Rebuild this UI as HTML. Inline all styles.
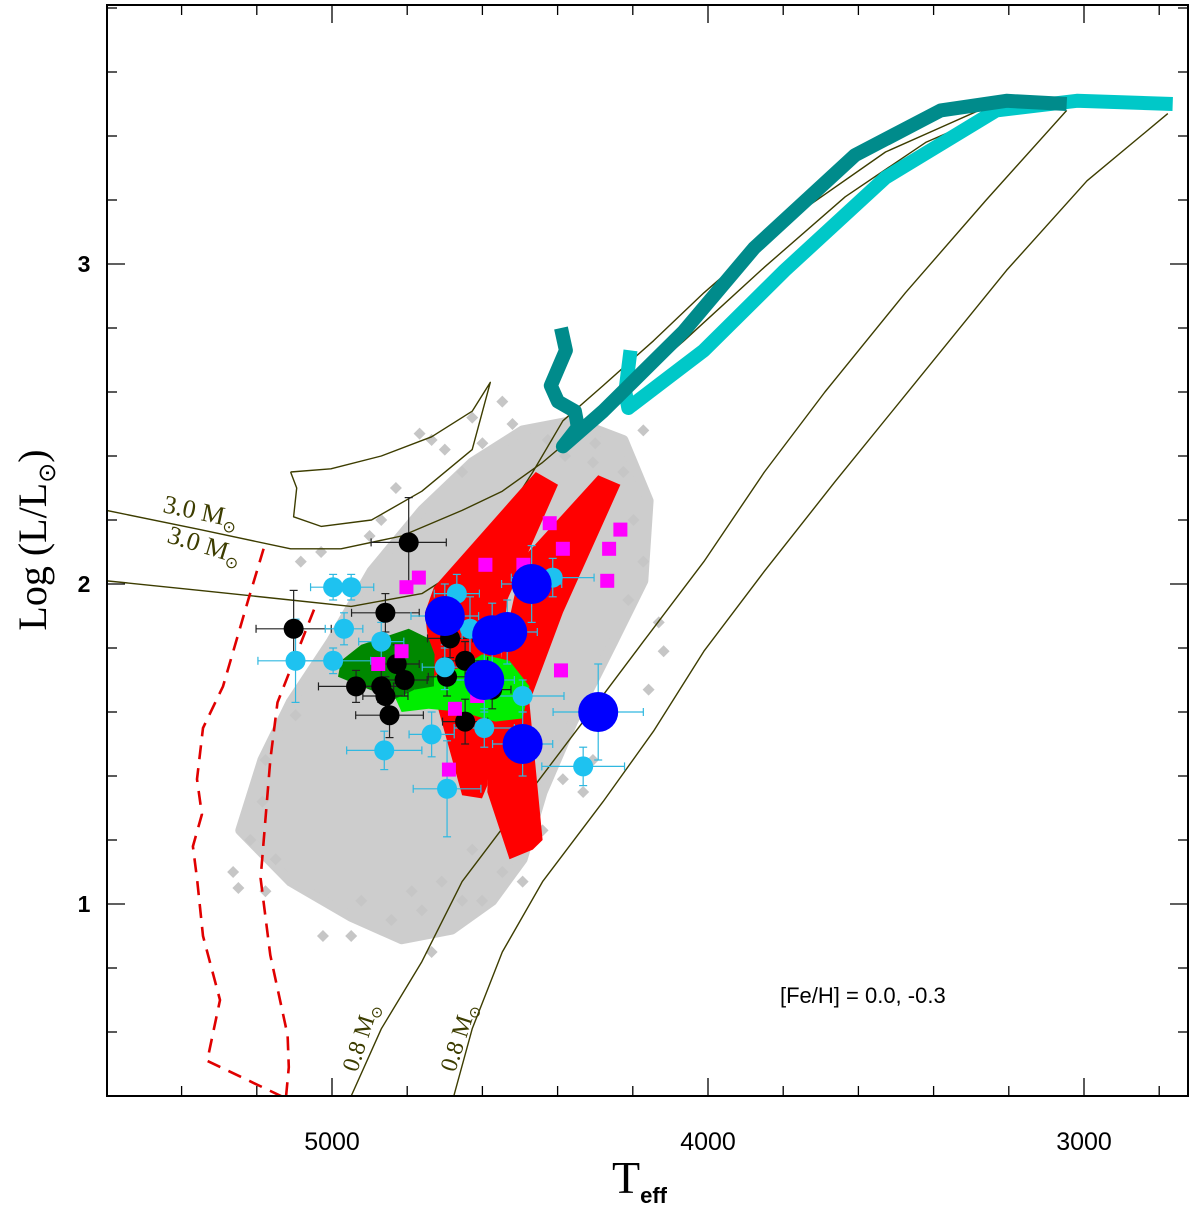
<!DOCTYPE html>
<html><head><meta charset="utf-8"><style>
html,body{margin:0;padding:0;background:#fff;}
svg{display:block;}
</style></head><body>
<svg id="chart" width="1200" height="1210" xmlns="http://www.w3.org/2000/svg"></svg>
<script>
// ---- data (Teff [K], log L/Lsun) ----
const xTicksMajor = [5000, 4000, 3000];
const xTickLabels = ["5000", "4000", "3000"];
const yTicksMajor = [1, 2, 3];
const yTickLabels = ["1", "2", "3"];

const trackUpperT = [5600,5351,5110,4976,4815,4654,4547,4440,4279,4064,3850,3635,3421,3206,3046];
const trackUpperL = [2.23,2.17,2.11,2.11,2.15,2.23,2.29,2.38,2.54,2.76,2.99,3.21,3.38,3.49,3.52];
const loopT = [5110,5003,4869,4735,4627,4579,4627,4761,4895,5029,5102,5094,5110];
const loopL = [2.35,2.36,2.40,2.46,2.54,2.63,2.42,2.29,2.20,2.18,2.21,2.30,2.35];
const trackLowerT = [5600,5351,5110,4949,4761,4627,4547,4466,4386,4279,4145,4011,3796,3528,3260,3046];
const trackLowerL = [2.01,1.98,1.95,1.93,1.97,2.07,2.20,2.35,2.51,2.62,2.76,2.91,3.13,3.35,3.49,3.52];
const track08aT = [4949,4869,4761,4654,4493,4332,4172,4011,3850,3689,3475,3260,3046];
const track08aL = [0.40,0.61,0.82,1.07,1.32,1.57,1.82,2.07,2.35,2.60,2.91,3.20,3.48];
const track08bT = [4676,4627,4547,4440,4279,4145,4011,3850,3662,3448,3206,2992,2777];
const track08bL = [0.40,0.61,0.85,1.07,1.32,1.54,1.79,2.04,2.32,2.63,2.98,3.26,3.47];

const tealT = [4391,4378,4418,4399,4354,4346,4386,4279,4064,3877,3609,3381,3206,3046];
const tealL = [2.80,2.73,2.62,2.57,2.54,2.49,2.43,2.54,2.79,3.05,3.34,3.48,3.51,3.50];
const cyanT = [4206,4220,4212,4011,3796,3528,3233,3019,2764];
const cyanL = [2.73,2.60,2.55,2.73,2.98,3.27,3.48,3.51,3.50];

const dashOuterT = [5182,5223,5290,5343,5359,5346,5370,5359,5343,5298,5332,5118];
const dashOuterL = [2.11,1.95,1.68,1.55,1.39,1.28,1.18,1.08,0.90,0.70,0.51,0.39];
const dashInnerT = [5048,5145,5164,5190,5164,5118,5115,5123];
const dashInnerL = [1.92,1.63,1.45,1.08,0.84,0.59,0.49,0.39];

const band1T = [4729,4458,4399,4534,4587,4601,4654,4727,4753];
const band1L = [1.99,2.35,2.31,1.95,1.37,1.33,1.34,1.65,1.91];
const band2T = [4493,4292,4233,4386,4475,4440,4466,4528,4587,4579,4547];
const band2L = [2.08,2.34,2.31,1.91,1.63,1.20,1.17,1.14,1.35,1.60,1.79];

const darkGreenT = [4976,4922,4796,4743,4727,4729,4780,4834,4922,4984];
const darkGreenL = [1.76,1.81,1.86,1.83,1.78,1.68,1.67,1.64,1.68,1.71];
const lightGreenT = [4834,4780,4716,4654,4601,4528,4475,4493,4566,4654,4743,4815];
const lightGreenL = [1.65,1.67,1.72,1.74,1.78,1.76,1.68,1.58,1.57,1.60,1.61,1.60];

const cloudT = [5244,5185,5110,5003,4895,4761,4627,4493,4359,4225,4158,4172,4252,4359,4440,4493,4574,4681,4815,4949,5110];
const cloudL = [1.23,1.45,1.63,1.82,2.04,2.23,2.38,2.48,2.51,2.45,2.26,2.01,1.82,1.57,1.35,1.14,1.01,0.92,0.89,0.96,1.07];
const fieldT = [4767,4735,4627,4547,4279,4172,4225,4118,4131,4198,4279,4386,4440,4493,4547,4654,4735,4761,5024,5177,5249,5263,5185,5177,5097,4601,4788,4949,4842,4306,4332,4158,4306,4426,4654,4869,5029,5083,5217,5150,4922,4708,4627,4172,4212,4700,4600,4520,4380,4300,4830,4900];
const fieldL = [2.47,2.45,2.52,2.57,2.54,2.48,2.35,1.79,1.88,2.20,1.63,1.39,1.23,1.07,1.10,1.01,0.85,0.98,0.90,1.04,1.05,1.10,1.32,1.45,1.59,1.01,1.04,0.90,0.95,1.45,1.35,1.67,2.38,2.45,2.35,2.20,2.10,2.07,1.20,1.14,1.01,1.07,1.17,2.07,1.95,2.42,2.44,2.50,2.40,2.44,2.30,2.15];

const blackT = [4796,5102,4858,4828,4807,4936,4869,4858,4847,4686,4646,4694,4646,4574];
const blackL = [2.13,1.86,1.91,1.75,1.70,1.68,1.68,1.65,1.59,1.83,1.76,1.71,1.57,1.67];
const blackErrT = [100,100,90,60,60,100,70,60,90,60,60,50,60,50];
const blackErrL = [0.14,0.12,0.06,0.06,0.05,0.05,0.05,0.06,0.07,0.06,0.06,0.06,0.07,0.06];

const skyT = [4997,4949,4968,5097,4997,4869,4668,4633,4700,4735,4861,4694,4595,4493,4413,4332];
const skyL = [1.99,1.99,1.86,1.76,1.76,1.82,1.97,1.86,1.74,1.53,1.48,1.36,1.55,1.65,2.02,1.43];
const skyErrT = [60,60,50,100,100,60,60,80,60,60,100,90,80,110,110,110];
const skyErrL = [0.04,0.04,0.05,0.13,0.04,0.06,0.06,0.10,0.07,0.07,0.06,0.15,0.06,0.05,0.06,0.06];

const bigT = [4469,4700,4574,4534,4595,4493,4292];
const bigL = [2.00,1.90,1.84,1.85,1.70,1.50,1.60];
const bigErrT = [80,90,80,80,80,80,120];
const bigErrL = [0.12,0.10,0.10,0.10,0.10,0.10,0.15];

const magT = [4421,4233,4386,4263,4592,4491,4268,4769,4802,4815,4877,4391,4673,4614,4689];
const magL = [2.19,2.17,2.11,2.11,2.06,2.06,2.01,2.02,1.99,1.79,1.75,1.73,1.61,1.65,1.42];

// ---- axes ----
const X0 = 107, X1 = 1188, Y0 = 5, Y1 = 1096;
function sx(t){ return 332 + (5000 - t) / 1000 * 376; }
function sy(l){ return 584 - (l - 2) * 320; }

const NS = "http://www.w3.org/2000/svg";
const svg = document.getElementById('chart');
function mk(tag, attrs, parent){
  const e = document.createElementNS(NS, tag);
  for (const k in attrs) e.setAttribute(k, attrs[k]);
  (parent || svg).appendChild(e);
  return e;
}
function pts(T, L){ return T.map((t,i)=> sx(t).toFixed(1)+','+sy(L[i]).toFixed(1)).join(' '); }

const defs = mk('defs', {});
const cp = mk('clipPath', {id:'plotclip'}, defs);
mk('rect', {x:X0, y:Y0, width:X1-X0, height:Y1-Y0}, cp);
const plot = mk('g', {'clip-path':'url(#plotclip)'});



// gray field cloud
let e = mk('polygon', {points: pts(cloudT, cloudL), fill:'#cdcdcd', stroke:'#cdcdcd', 'stroke-width':10, 'stroke-linejoin':'round'}, plot);


fieldT.forEach((t,i)=>{
  const x = sx(t), y = sy(fieldL[i]);
  const d = mk('polygon', {points: `${x},${y-6} ${x+6},${y} ${x},${y+6} ${x-6},${y}`, fill:'#c6c6c6'}, plot);
  
  
});

// thin evolutionary tracks
[[trackUpperT,trackUpperL,'track-3msun-upper'],[loopT,loopL,'track-blue-loop'],[trackLowerT,trackLowerL,'track-3msun-lower'],[track08aT,track08aL,'track-08msun-a'],[track08bT,track08bL,'track-08msun-b']].forEach(a=>{
  const p = mk('polyline', {points: pts(a[0],a[1]), fill:'none', stroke:'#3d3d00', 'stroke-width':1.4, 'stroke-linejoin':'round'}, plot);
  
  
});

// red dashed instability strip
[[dashOuterT,dashOuterL,'strip-edge-blue'],[dashInnerT,dashInnerL,'strip-edge-red']].forEach(a=>{
  const p = mk('polyline', {points: pts(a[0],a[1]), fill:'none', stroke:'#e00000', 'stroke-width':2.6, 'stroke-dasharray':'14,9'}, plot);
  
  
});

// red bands
[[band1T,band1L,'red-band-left'],[band2T,band2L,'red-band-right']].forEach(a=>{
  const p = mk('polygon', {points: pts(a[0],a[1]), fill:'#ff0000'}, plot);
  
  
});
// green regions
e = mk('polygon', {points: pts(lightGreenT, lightGreenL), fill:'#00ee00'}, plot);


e = mk('polygon', {points: pts(darkGreenT, darkGreenL), fill:'#008800'}, plot);



// error bars helper
function errbar(t,l,et,el,color){
  const g = mk('g', {stroke:color, 'stroke-width':1.2}, plot);
  
  
  const xa = sx(t+et), xb = sx(t-et), ya = sy(l+el), yb = sy(l-el), x = sx(t), y = sy(l);
  mk('line', {x1:xa, y1:y, x2:xb, y2:y}, g);
  mk('line', {x1:x, y1:ya, x2:x, y2:yb}, g);
  mk('line', {x1:xa, y1:y-4, x2:xa, y2:y+4}, g);
  mk('line', {x1:xb, y1:y-4, x2:xb, y2:y+4}, g);
  mk('line', {x1:x-4, y1:ya, x2:x+4, y2:ya}, g);
  mk('line', {x1:x-4, y1:yb, x2:x+4, y2:yb}, g);
}
blackT.forEach((t,i)=>errbar(t,blackL[i],blackErrT[i],blackErrL[i],'#222'));
skyT.forEach((t,i)=>errbar(t,skyL[i],skyErrT[i],skyErrL[i],'#30b8e0'));
bigT.forEach((t,i)=>errbar(t,bigL[i],bigErrT[i],bigErrL[i],'#30b8e0'));

blackT.forEach((t,i)=>{
  const c = mk('circle', {cx:sx(t), cy:sy(blackL[i]), r:10, fill:'#000'}, plot);
  
  
});
skyT.forEach((t,i)=>{
  const c = mk('circle', {cx:sx(t), cy:sy(skyL[i]), r:10, fill:'#1ec2f0'}, plot);
  
  
});
magT.forEach((t,i)=>{
  const r = mk('rect', {x:sx(t)-7, y:sy(magL[i])-7, width:14, height:14, fill:'#ff00ff'}, plot);
  
  
});
bigT.forEach((t,i)=>{
  const c = mk('circle', {cx:sx(t), cy:sy(bigL[i]), r:20, fill:'#0000ff'}, plot);
  
  
});

// thick AGB/RGB tracks
e = mk('polyline', {points: pts(cyanT, cyanL), fill:'none', stroke:'#00c8c8', 'stroke-width':14, 'stroke-linejoin':'round'}, plot);


e = mk('polyline', {points: pts(tealT, tealL), fill:'none', stroke:'#008b8b', 'stroke-width':14, 'stroke-linejoin':'round'}, plot);



// frame
e = mk('rect', {x:X0, y:Y0, width:X1-X0, height:Y1-Y0, fill:'none', stroke:'#000', 'stroke-width':2});



// ticks
const tg = mk('g', {stroke:'#000', 'stroke-width':1.3});


for (let t = 5600; t >= 2600; t -= 200){
  const x = sx(t); if (x < X0 || x > X1) continue;
  const len = (t % 1000 === 0) ? 18 : 10;
  mk('line', {x1:x, y1:Y1, x2:x, y2:Y1-len}, tg);
  mk('line', {x1:x, y1:Y0, x2:x, y2:Y0+len}, tg);
}
for (let k = 4; k <= 38; k += 2){
  const l = k/10, y = sy(l); if (y < Y0 || y > Y1) continue;
  const len = (k % 10 === 0) ? 18 : 10;
  mk('line', {x1:X0, y1:y, x2:X0+len, y2:y}, tg);
  mk('line', {x1:X1, y1:y, x2:X1-len, y2:y}, tg);
}
xTicksMajor.forEach((t,i)=>{
  const tx = mk('text', {x:sx(t), y:1150, 'text-anchor':'middle', 'font-family':'Liberation Sans, sans-serif', 'font-size':25}, svg);
  tx.textContent = xTickLabels[i];
  
  
});
yTicksMajor.forEach((l,i)=>{
  const tx = mk('text', {x:84, y:sy(l)+8, 'text-anchor':'middle', 'font-family':'Liberation Sans, sans-serif', 'font-size':23, 'font-weight':'bold'}, svg);
  tx.textContent = yTickLabels[i];
  
  
});
</script>
<svg style="position:absolute;left:0;top:0" width="1200" height="1210" xmlns="http://www.w3.org/2000/svg">
  <text x="612" y="1193" font-family="Liberation Serif, serif" font-size="46">T<tspan font-family="Liberation Sans, sans-serif" font-size="22" font-weight="bold" dy="10">eff</tspan></text>
  <text transform="translate(46,540) rotate(-90)" text-anchor="middle" font-family="Liberation Serif, serif" font-size="40">Log (L/L<tspan font-size="24" dy="9">⊙</tspan><tspan dy="-9">)</tspan></text>
  <text transform="translate(162,512) rotate(12)" font-family="Liberation Serif, serif" font-size="26" fill="#3d3d00">3.0 M<tspan font-size="16" dy="6">⊙</tspan></text>
  <text transform="translate(166,542) rotate(17)" font-family="Liberation Serif, serif" font-size="26" fill="#3d3d00">3.0 M<tspan font-size="16" dy="6">⊙</tspan></text>
  <text transform="translate(357,1073) rotate(-72)" font-family="Liberation Serif, serif" font-size="24" fill="#3d3d00">0.8 M<tspan font-size="15" dy="5">⊙</tspan></text>
  <text transform="translate(455,1073) rotate(-72)" font-family="Liberation Serif, serif" font-size="24" fill="#3d3d00">0.8 M<tspan font-size="15" dy="5">⊙</tspan></text>
  <text x="780" y="1003" font-family="Liberation Sans, sans-serif" font-size="22">[Fe/H] = 0.0, -0.3</text>
</svg>
</body></html>
